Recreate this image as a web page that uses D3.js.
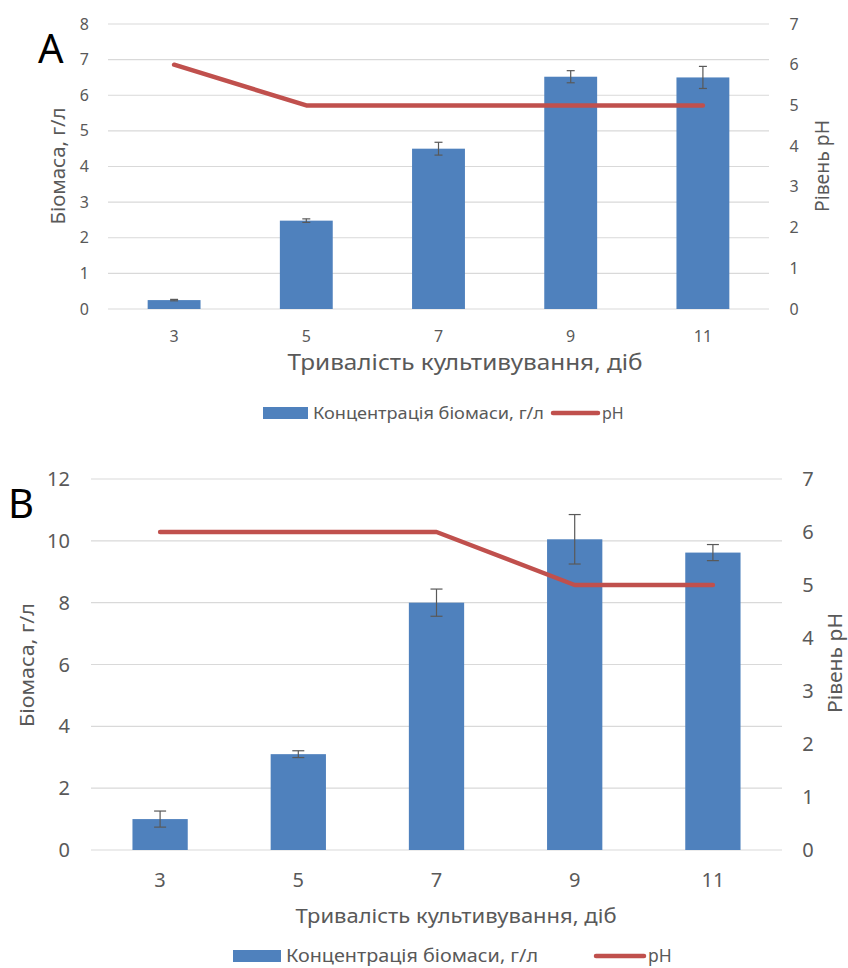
<!DOCTYPE html>
<html>
<head>
<meta charset="utf-8">
<script src="https://cdn.jsdelivr.net/npm/d3@7"></script>
<style>
  body { margin: 0; background: #fff; }
  text { font-family: "Noto Sans", "Open Sans", sans-serif; fill: #595959; }
</style>
</head>
<body>
<div id="chart"></div>
<script>
// data
var days = ["3", "5", "7", "9", "11"];
var biomassA = [0.25, 2.48, 4.5, 6.52, 6.5];
var errA = [0.02, 0.05, 0.18, 0.17, 0.31];
var phA = [6, 5, 5, 5, 5];
var biomassB = [1.0, 3.1, 8.0, 10.05, 9.62];
var errB = [0.26, 0.11, 0.44, 0.8, 0.26];
var phB = [6, 6, 6, 5, 5];
var leftTicksA = [0, 1, 2, 3, 4, 5, 6, 7, 8];
var leftTicksB = [0, 2, 4, 6, 8, 10, 12];
var phTicks = [0, 1, 2, 3, 4, 5, 6, 7];
var xTitle = "Тривалість культивування, діб";
var yTitle = "Біомаса, г/л";
var y2Title = "Рівень pH";
var legendBar = "Концентрація біомаси, г/л";
var legendLine = "pH";

var svg = d3.select("#chart").append("svg").attr("width", 848).attr("height", 968);

// squeeze a text to a given width (reference font is narrower than Noto)
function fit(sel, w) {
    return sel.attr("textLength", w).attr("lengthAdjust", "spacingAndGlyphs");
}

function panel(o) {
    var g = svg.append("g");
    var x = d3.scaleBand().domain(days).range([o.x0, o.x1]).paddingInner(0.6).paddingOuter(0.3);
    var y = d3.scaleLinear().domain([0, o.ymax]).range([o.yb, o.yt]);
    var y2 = d3.scaleLinear().domain([0, 7]).range([o.yb, o.yt]);

    // grid
    g.append("g").selectAll("line").data(o.leftTicks).enter().append("line")
        .attr("x1", o.x0).attr("x2", o.x1)
        .attr("y1", d => y(d)).attr("y2", d => y(d))
        .attr("stroke", "#d9d9d9").attr("stroke-width", 1.2);

    // left ticks
    g.append("g").selectAll("text").data(o.leftTicks).enter().append("text")
        .attr("x", o.x0 - o.tickGap).attr("y", d => y(d)).attr("dy", "0.35em")
        .attr("text-anchor", "end").style("font-size", o.tickSize + "px").text(d => d);
    // right ticks
    g.append("g").selectAll("text").data(phTicks).enter().append("text")
        .attr("x", o.rightTickX).attr("y", d => y2(d)).attr("dy", "0.35em")
        .attr("text-anchor", "middle").style("font-size", o.tickSize + "px").text(d => d);
    // x ticks
    g.append("g").selectAll("text").data(days).enter().append("text")
        .attr("x", d => x(d) + x.bandwidth() / 2).attr("y", o.xTickY)
        .attr("text-anchor", "middle").style("font-size", o.tickSize + "px").text(d => d);

    // bars
    g.append("g").selectAll("rect").data(o.bio).enter().append("rect")
        .attr("x", (d, i) => x(days[i])).attr("width", x.bandwidth())
        .attr("y", d => y(d)).attr("height", d => o.yb - y(d))
        .attr("fill", "#4f81bd");

    // error bars
    var eb = g.append("g").attr("stroke", "#595959").attr("stroke-width", 1.2);
    o.bio.forEach(function(v, i) {
        var cx = x(days[i]) + x.bandwidth() / 2;
        var e = o.err[i];
        eb.append("line").attr("x1", cx).attr("x2", cx).attr("y1", y(v + e)).attr("y2", y(v - e));
        eb.append("line").attr("x1", cx - o.cap).attr("x2", cx + o.cap).attr("y1", y(v + e)).attr("y2", y(v + e));
        eb.append("line").attr("x1", cx - o.cap).attr("x2", cx + o.cap).attr("y1", y(v - e)).attr("y2", y(v - e));
    });

    // pH line
    var line = d3.line().x((d, i) => x(days[i]) + x.bandwidth() / 2).y(d => y2(d));
    g.append("path").datum(o.ph).attr("d", line).attr("fill", "none")
        .attr("stroke", "#c0504d").attr("stroke-width", 4.5)
        .attr("stroke-linecap", "round").attr("stroke-linejoin", "round");

    // axis titles
    fit(g.append("text").attr("transform", `translate(${o.yTitleX}, ${o.yTitleY}) rotate(-90)`)
        .attr("text-anchor", "middle").style("font-size", o.titleSize + "px").text(yTitle), o.yTitleW);
    fit(g.append("text").attr("transform", `translate(${o.y2TitleX}, ${o.y2TitleY}) rotate(-90)`)
        .attr("text-anchor", "middle").style("font-size", o.titleSize + "px").text(y2Title), o.y2TitleW);
    fit(g.append("text").attr("x", o.xTitleX).attr("y", o.xTitleY).attr("text-anchor", "middle")
        .style("font-size", o.xTitleSize + "px").text(xTitle), o.xTitleW);

    // legend
    g.append("rect").attr("x", o.legX).attr("y", o.legY - 6).attr("width", o.legW).attr("height", 12).attr("fill", "#4f81bd");
    fit(g.append("text").attr("x", o.legX + o.legW + 5).attr("y", o.legY).attr("dy", "0.35em")
        .style("font-size", o.legSize + "px").text(legendBar), o.legTextW);
    g.append("line").attr("x1", o.leg2X).attr("x2", o.leg2X + o.legW).attr("y1", o.legY).attr("y2", o.legY)
        .attr("stroke", "#c0504d").attr("stroke-width", 4.5).attr("stroke-linecap", "round");
    g.append("text").attr("x", o.leg2X + o.legW + 4).attr("y", o.legY).attr("dy", "0.35em")
        .style("font-size", o.legSize + "px").text(legendLine);

    // panel letter
    g.append("text").attr("x", o.letterX).attr("y", o.letterY)
        .style("font-size", "40px").style("fill", "#000").text(o.letter);
}

panel({
    letter: "A", letterX: 38, letterY: 63,
    bio: biomassA, err: errA, ph: phA, ymax: 8, leftTicks: leftTicksA,
    x0: 108, x1: 769, yt: 24, yb: 309,
    tickGap: 19, tickSize: 16, rightTickX: 794, xTickY: 342, cap: 4,
    yTitleX: 65, yTitleY: 166, yTitleW: 117,
    y2TitleX: 829, y2TitleY: 166, y2TitleW: 92, titleSize: 19,
    xTitleX: 465, xTitleY: 370, xTitleSize: 21, xTitleW: 355,
    legX: 263, leg2X: 553, legW: 45, legY: 413, legSize: 16, legTextW: 231
});

panel({
    letter: "B", letterX: 8, letterY: 518,
    bio: biomassB, err: errB, ph: phB, ymax: 12, leftTicks: leftTicksB,
    x0: 91, x1: 782, yt: 479, yb: 850,
    tickGap: 21, tickSize: 20, rightTickX: 808, xTickY: 887, cap: 6,
    yTitleX: 34, yTitleY: 665, yTitleW: 124,
    y2TitleX: 842, y2TitleY: 663, y2TitleW: 100, titleSize: 20,
    xTitleX: 456, xTitleY: 923, xTitleSize: 19, xTitleW: 321,
    legX: 233, leg2X: 596, legW: 48, legY: 956, legSize: 17.5, legTextW: 252
});
</script>
</body>
</html>
